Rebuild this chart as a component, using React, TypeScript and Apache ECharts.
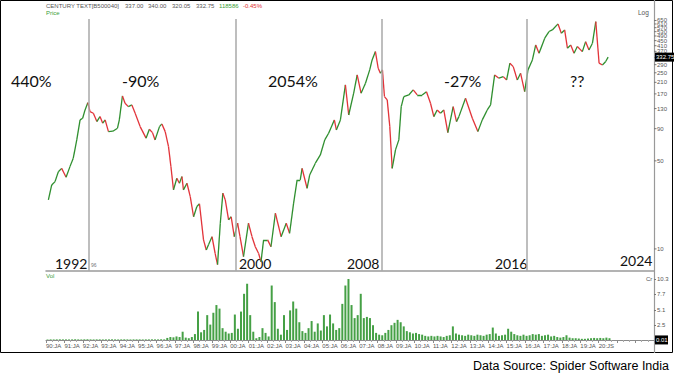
import React, { useEffect, useRef } from 'react';
import * as echarts from 'echarts';

// ---- Data ----
const priceYears = [
  1990.13, 1990.31, 1990.49, 1990.67, 1990.85, 1991.09, 1991.3, 1991.48, 1991.67, 1991.85,
  1991.99, 1992.12, 1992.27, 1992.39, 1992.57, 1992.76, 1992.93, 1993.08, 1993.21, 1993.39,
  1993.63, 1993.88, 1993.98, 1994.15, 1994.29, 1994.47, 1994.66, 1994.84, 1995.11, 1995.43,
  1995.61, 1995.78, 1995.92, 1996.16, 1996.29, 1996.47, 1996.65, 1996.78, 1996.92, 1997.1,
  1997.24, 1997.38, 1997.46, 1997.65, 1997.83, 1998.01, 1998.19, 1998.33, 1998.55, 1998.7,
  1998.82, 1999.01, 1999.18, 1999.31, 1999.46, 1999.6, 1999.73, 1999.91, 2000.05, 2000.22,
  2000.4, 2000.53, 2000.72, 2000.99, 2001.18, 2001.36, 2001.54, 2001.67, 2001.81, 2002.03,
  2002.21, 2002.45, 2002.76, 2003.04, 2003.22, 2003.44, 2003.63, 2003.8, 2003.9, 2004.17,
  2004.31, 2004.62, 2004.89, 2005.13, 2005.34, 2005.65, 2005.76, 2005.98, 2006.25, 2006.43,
  2006.7, 2006.89, 2007.1, 2007.34, 2007.57, 2007.7, 2007.88, 2008.03, 2008.15, 2008.26,
  2008.37, 2008.52, 2008.66, 2008.79, 2008.97, 2009.15, 2009.28, 2009.42, 2009.69, 2009.93,
  2010.15, 2010.42, 2010.65, 2010.87, 2011.05, 2011.23, 2011.41, 2011.59, 2011.81, 2012.1,
  2012.28, 2012.41, 2012.77, 2013.14, 2013.44, 2013.68, 2013.95, 2014.13, 2014.35, 2014.58,
  2014.82, 2015.0, 2015.18, 2015.36, 2015.58, 2015.76, 2015.98, 2016.16, 2016.4, 2016.58,
  2016.76, 2017.07, 2017.3, 2017.48, 2017.79, 2017.97, 2018.15, 2018.3, 2018.48, 2018.66,
  2018.84, 2019.11, 2019.29, 2019.47, 2019.66, 2019.84, 2020.02, 2020.2, 2020.38, 2020.51,
];
const prices = [
  24.5, 32.2, 34.2, 41.0, 43.6, 37.1, 45.0, 52.5, 73.3, 105.7,
  108.9, 126.8, 144.9, 123.0, 119.4, 102.4, 112.2, 99.5, 105.7, 85.3,
  86.0, 90.8, 105.7, 163.7, 143.2, 134.6, 139.0, 119.4, 93.5, 75.7,
  89.1, 83.8, 73.3, 93.5, 98.2, 85.3, 64.9, 45.0, 29.4, 36.4,
  33.2, 37.5, 29.4, 33.2, 26.0, 18.0, 21.7, 22.8, 11.8, 9.8,
  10.8, 12.5, 9.2, 7.5, 16.0, 27.7, 24.5, 17.0, 18.0, 12.5,
  16.0, 12.5, 8.7, 16.0, 12.5, 10.4, 9.2, 7.9, 11.8, 11.8,
  10.4, 19.2, 12.5, 16.0, 13.3, 23.1, 35.3, 35.3, 43.6, 30.3,
  38.6, 47.9, 55.7, 73.3, 82.8, 105.7, 87.9, 105.7, 200.4, 115.6,
  172.2, 240.4, 172.2, 206.6, 263.6, 316.2, 368.2, 271.6, 247.7, 263.6,
  161.9, 152.4, 93.5, 43.6, 61.1, 73.3, 134.6, 161.9, 166.7, 182.8,
  166.7, 166.7, 177.0, 143.2, 112.2, 126.8, 119.4, 126.8, 83.8, 134.6,
  102.4, 112.2, 157.0, 108.9, 85.3, 105.7, 126.8, 139.0, 240.4, 226.5,
  233.0, 219.3, 297.9, 279.9, 219.3, 247.7, 177.0, 263.6, 316.2, 415.9,
  357.3, 470.3, 531.2, 547.0, 610.6, 515.2, 547.0, 391.7, 415.9, 357.3,
  403.6, 368.2, 441.6, 379.3, 429.4, 636.8, 297.9, 288.4, 306.9, 332.75,
];

// Volume in Cr, six periods per year starting 1990
const VOL_START = 1990;
const VOL_PER_YEAR = 6;
const volumes = [
  0.08, 0.1, 0.09, 0.1, 0.11, 0.1,
  0.1, 0.09, 0.1, 0.12, 0.1, 0.09,
  0.11, 0.12, 0.1, 0.09, 0.1, 0.1,
  0.09, 0.1, 0.1, 0.11, 0.1, 0.09,
  0.1, 0.11, 0.1, 0.09, 0.1, 0.1,
  0.1, 0.09, 0.1, 0.1, 0.11, 0.1,
  0.1, 0.12, 0.1, 0.35, 0.5, 0.45,
  0.6, 0.5, 1.4, 0.4, 0.3, 0.5,
  1.0, 4.8, 1.3, 1.7, 4.2, 2.6,
  4.6, 5.9, 5.3, 2.0, 1.4, 1.1,
  1.2, 4.3, 1.9, 4.8, 7.8, 9.5,
  4.2, 1.4, 0.3, 0.5, 2.0, 1.2,
  0.6, 9.2, 6.4, 1.9, 0.9, 4.2,
  1.7, 5.0, 6.5, 5.3, 3.0, 1.5,
  1.2, 2.0, 3.2, 1.4, 2.8, 1.6,
  4.2, 2.3, 4.3, 2.8, 1.7, 2.0,
  6.1, 9.2, 10.3, 5.9, 3.7, 4.2,
  7.8, 3.7, 3.9, 3.7, 2.5, 1.2,
  0.9, 0.8, 1.2, 1.7, 2.5, 2.9,
  3.4, 3.0, 2.3, 1.5, 1.3, 1.1,
  1.2, 1.0, 0.9, 0.7, 0.6, 0.7,
  0.6, 0.7, 0.6, 0.5, 0.7, 0.8,
  2.3, 1.1, 0.9, 0.8, 0.7, 0.9,
  0.8, 0.7, 0.9, 0.8, 0.7, 0.9,
  1.0, 2.1, 1.1, 0.7, 0.8, 0.9,
  1.9, 1.4, 1.0, 0.8, 0.7, 0.9,
  0.7, 0.8, 1.0, 0.9, 1.0, 0.7,
  0.8, 0.9, 0.6, 0.7, 0.5, 0.4,
  0.5, 0.8, 0.4, 0.3, 0.3, 0.25,
  0.2, 0.2, 0.25, 0.3, 0.35, 0.3,
  0.35, 0.3, 0.4, 0.3,
];

const priceTicks = [10, 50, 90, 130, 170, 210, 250, 290, 330, 370, 410, 450, 490, 530, 570, 610, 650];
const volTicks = [2.5, 5.1, 7.7, 10.3];
const volBottomLabel = 0.01;
const dividerYears = [1992.3, 2000.3, 2008.2, 2016.1];
const X_MIN = 1990;
const X_MAX = 2023;
const LAST_LABEL_YEAR = 2020;

const header = {
  name: 'CENTURY TEXT[B500040]',
  ohlc: ['337.00', '340.00', '320.05', '332.75'],
  volume: '118586',
  change: '-0.45%',
};
const periodLabels = ['440%', '-90%', '2054%', '-27%', '??'];
const yearLabels = ['1992', '2000', '2008', '2016', '2024'];

const GREEN = '#2f8f2f';
const RED = '#e2343a';
const SMALL = 'Liberation Sans';
const BIG = 'Lato';

export default function App() {
  const ref = useRef<HTMLDivElement>(null);

  useEffect(() => {
    const chart = echarts.init(ref.current!, null, { renderer: 'svg' });

    const segments: any[] = [];
    for (let i = 0; i < priceYears.length - 1; i++) {
      const up = prices[i + 1] >= prices[i];
      segments.push({
        coords: [
          [priceYears[i], prices[i]],
          [priceYears[i + 1], prices[i + 1]],
        ],
        lineStyle: { color: up ? GREEN : RED },
      });
    }
    const lastPrice = prices[prices.length - 1];

    const small = (text: string, x: number, y: number, fill = '#555', size = 6, align = 'left') => ({
      type: 'text',
      x,
      y,
      silent: true,
      style: { text, fill, fontSize: size, fontFamily: SMALL, align, verticalAlign: 'middle' },
    });
    const big = (text: string, x: number, y: number, size = 16) => ({
      type: 'text',
      x,
      y,
      silent: true,
      style: { text, fill: '#111', fontSize: size, fontFamily: BIG, align: 'left', verticalAlign: 'middle' },
    });

    const option: any = {
      animation: false,
      backgroundColor: '#fff',
      grid: [
        { left: 46, right: 21, top: 19, height: 252 },
        { left: 46, right: 21, top: 279, height: 61 },
      ],
      xAxis: [
        {
          gridIndex: 0,
          type: 'value',
          min: X_MIN,
          max: X_MAX,
          interval: 1,
          axisLine: { show: true, onZero: false, lineStyle: { color: '#9a9a9a', width: 1.5 } },
          axisTick: { show: false },
          axisLabel: { show: false },
          splitLine: { show: false },
        },
        {
          gridIndex: 1,
          type: 'value',
          min: X_MIN,
          max: X_MAX,
          interval: 1,
          axisLine: { show: true, onZero: false, lineStyle: { color: '#8a8a8a', width: 1 } },
          axisTick: { show: true, length: 3, lineStyle: { color: '#8a8a8a' } },
          minorTick: { show: true, splitNumber: 3, length: 2, lineStyle: { color: '#aaa' } },
          axisLabel: {
            fontSize: 6,
            fontFamily: SMALL,
            color: '#555',
            align: 'left',
            margin: 3,
            formatter: (v: number) => {
              if (v > LAST_LABEL_YEAR) return '';
              const yy = String(Math.round(v) % 100).padStart(2, '0');
              return v === LAST_LABEL_YEAR ? `${yy}:JS` : `${yy}:JA`;
            },
          },
          splitLine: { show: false },
        },
      ],
      yAxis: [
        {
          gridIndex: 0,
          type: 'log',
          logBase: 10,
          min: 6.68,
          max: 668,
          position: 'right',
          axisLine: { show: false },
          axisTick: { show: false },
          axisLabel: { show: false },
          splitLine: { show: false },
        },
        {
          gridIndex: 1,
          type: 'value',
          min: 0,
          max: 10.3,
          position: 'right',
          axisLine: { show: false },
          axisTick: { show: true, customValues: volTicks, length: 2, lineStyle: { color: '#777' } },
          axisLabel: {
            customValues: volTicks,
            fontSize: 6,
            fontFamily: SMALL,
            color: '#555',
            margin: 3,
            formatter: (v: number) => v.toFixed(1),
          },
          splitLine: { show: false },
        },
      ],
      series: [
        {
          type: 'line',
          xAxisIndex: 0,
          yAxisIndex: 0,
          silent: true,
          showSymbol: false,
          lineStyle: { opacity: 0 },
          data: priceYears.map((y, i) => [y, prices[i]]),
          z: 1,
          markLine: {
            silent: true,
            symbol: ['none', 'none'],
            label: { show: false },
            lineStyle: { color: '#a8a8a8', width: 1.5, type: 'solid' },
            data: dividerYears.map((x) => ({ xAxis: x })),
          },
        },
        {
          type: 'lines',
          coordinateSystem: 'cartesian2d',
          xAxisIndex: 0,
          yAxisIndex: 0,
          polyline: false,
          silent: true,
          lineStyle: { width: 1.3, opacity: 1 },
          data: segments,
          z: 3,
        },
        {
          type: 'custom',
          xAxisIndex: 0,
          yAxisIndex: 0,
          silent: true,
          clip: false,
          z: 4,
          data: priceTicks.map((v) => [X_MAX, v]),
          renderItem: (params: any, api: any) => {
            const v = api.value(1);
            const p = api.coord([api.value(0), v]);
            return {
              type: 'group',
              children: [
                { type: 'line', shape: { x1: p[0], y1: p[1], x2: p[0] + 2.5, y2: p[1] }, style: { stroke: '#777', lineWidth: 1 } },
                {
                  type: 'text',
                  x: p[0] + 3,
                  y: p[1],
                  style: { text: String(v), fill: '#555', fontSize: 6, fontFamily: SMALL, align: 'left', verticalAlign: 'middle' },
                },
              ],
            };
          },
        },
        {
          type: 'custom',
          xAxisIndex: 0,
          yAxisIndex: 0,
          silent: true,
          clip: false,
          z: 6,
          data: [[X_MAX, lastPrice]],
          renderItem: (params: any, api: any) => {
            const p = api.coord([api.value(0), api.value(1)]);
            return {
              type: 'group',
              children: [
                { type: 'rect', shape: { x: p[0] + 1, y: p[1] - 4.5, width: 19, height: 9 }, style: { fill: '#000' } },
                {
                  type: 'text',
                  x: p[0] + 2,
                  y: p[1],
                  style: { text: api.value(1).toFixed(2), fill: '#fff', fontSize: 6, fontFamily: SMALL, align: 'left', verticalAlign: 'middle' },
                },
              ],
            };
          },
        },
        {
          type: 'bar',
          xAxisIndex: 1,
          yAxisIndex: 1,
          silent: true,
          barWidth: 2,
          itemStyle: { color: '#45a045' },
          data: volumes.map((v, i) => [VOL_START + (i + 0.5) / VOL_PER_YEAR, v]),
        },
        {
          type: 'custom',
          xAxisIndex: 1,
          yAxisIndex: 1,
          silent: true,
          clip: false,
          z: 6,
          data: [[X_MAX, volBottomLabel]],
          renderItem: (params: any, api: any) => {
            const p = api.coord([api.value(0), api.value(1)]);
            return {
              type: 'group',
              children: [
                { type: 'rect', shape: { x: p[0] + 1, y: p[1] - 4.5, width: 13, height: 9 }, style: { fill: '#000' } },
                {
                  type: 'text',
                  x: p[0] + 2,
                  y: p[1],
                  style: { text: api.value(1).toFixed(2), fill: '#fff', fontSize: 6, fontFamily: SMALL, align: 'left', verticalAlign: 'middle' },
                },
              ],
            };
          },
        },
      ],
      graphic: [
        { type: 'rect', silent: true, shape: { x: 0.5, y: 0.5, width: 672, height: 352 }, style: { fill: 'none', stroke: '#000', lineWidth: 1 } },
        { type: 'line', silent: true, shape: { x1: 654.5, y1: 0, x2: 654.5, y2: 353 }, style: { stroke: '#999', lineWidth: 1.2 } },
        small(header.name, 46, 6),
        small(header.ohlc[0], 125, 6),
        small(header.ohlc[1], 148, 6),
        small(header.ohlc[2], 172, 6),
        small(header.ohlc[3], 196, 6),
        small(header.volume, 219, 6, '#3aa03a'),
        small(header.change, 243, 6, '#e03030'),
        small('Price', 46, 13, '#3aa03a'),
        small('Log', 638, 12, '#555', 6.5),
        small('Vol', 46, 276, '#3aa03a'),
        small('Cr', 646, 279, '#555'),
        small('96', 91, 265, '#777', 5),
        big(periodLabels[0], 11, 80),
        big(periodLabels[1], 122, 80),
        big(periodLabels[2], 268, 80),
        big(periodLabels[3], 444, 80),
        big(periodLabels[4], 570, 80),
        big(yearLabels[0], 55, 263, 14),
        big(yearLabels[1], 239, 263, 14),
        big(yearLabels[2], 347, 263, 14),
        big(yearLabels[3], 495, 263, 14),
        big(yearLabels[4], 620, 260, 14),
        {
          type: 'text',
          x: 669,
          y: 366,
          silent: true,
          style: {
            text: 'Data Source: Spider Software India',
            fill: '#000',
            fontSize: 12.5,
            fontFamily: SMALL,
            align: 'right',
            verticalAlign: 'middle',
          },
        },
      ],
    };

    chart.setOption(option);
    return () => chart.dispose();
  }, []);

  return (
    <div
      ref={ref}
      style={{ position: 'fixed', left: 0, top: 0, width: 675, height: 375, background: '#fff' }}
    />
  );
}
